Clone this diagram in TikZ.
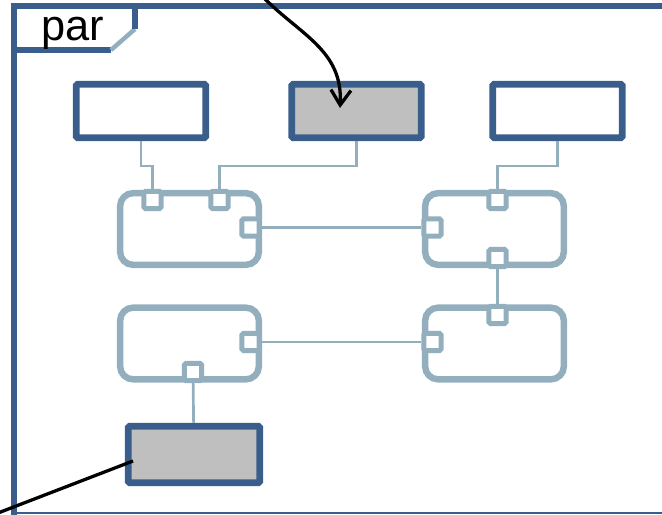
\documentclass[tikz,border=0pt]{standalone}
\usepackage{fontspec}
\setmainfont{Liberation Sans}
\usepackage{tikz}
\usetikzlibrary{arrows.meta}
\definecolor{Frame}{HTML}{3A5E8C}
\definecolor{Part}{HTML}{93AFBE}
\definecolor{Shade}{HTML}{BFBFBF}

\begin{document}
\begin{tikzpicture}[x=0.03cm,y=-0.03cm,
  frame/.style={draw=Frame,line width=5.6pt},
  obj/.style={draw=Frame,line width=5.8pt,fill=white,minimum width=3.88cm,minimum height=1.6cm,inner sep=0pt,rounded corners=1pt},
  objgray/.style={obj,fill=Shade},
  part/.style={draw=Part,line width=5.5pt,fill=white,rounded corners=11pt,minimum width=4.16cm,minimum height=2.15cm,inner sep=0pt},
  port/.style={draw=Part,line width=4.2pt,fill=white,rounded corners=1.5pt,minimum size=0.52cm,inner sep=0pt},
  wire/.style={draw=Part,line width=2.3pt},
  note/.style={draw=black,line width=2.8pt}
]
\useasboundingbox (0,0) rectangle (662,515);
% diagram frame with its name tag
\draw[frame] (662,6) -- (14,6) -- (14,515);
\draw[draw=Frame,line width=1.8pt] (14,513) -- (662,513);
\draw[frame] (14,50) -- (111,50);
\draw[draw=Part,line width=3.8pt] (111,50) -- (135,29);
\draw[frame] (135,29) -- (135,6);
\node[anchor=base west,inner sep=0pt,font=\fontsize{37}{37}\selectfont] (tag) at (41,41) {par};
% objects
\node[obj] (r1) at (141,111) {};
\node[objgray] (r2) at (356.5,111) {};
\node[obj] (r3) at (557.5,111) {};
\node[objgray,minimum width=3.94cm,minimum height=1.69cm] (r4) at (194,454.5) {};
% parts
\node[part] (b1) at (189.5,229) {};
\node[part] (b2) at (494.5,229) {};
\node[part] (b3) at (189.5,343.5) {};
\node[part] (b4) at (494.5,343.5) {};
% ports
\node[port] (p1a) at (152.5,200) {};
\node[port] (p1b) at (219.5,200) {};
\node[port] (p1c) at (250.5,227.5) {};
\node[port] (p2a) at (497.5,200) {};
\node[port] (p2b) at (432.5,227.5) {};
\node[port] (p2c) at (497.5,258) {};
\node[port] (p3a) at (250.5,342) {};
\node[port] (p3b) at (193,372) {};
\node[port] (p4a) at (432.5,342) {};
\node[port] (p4b) at (497.5,315) {};
% connectors
\draw[wire] (r1.south) |- (p1a |- 0,166) -- (p1a);
\draw[wire] (r2.south) |- (p1b |- 0,166) -- (p1b);
\draw[wire] (r3.south) |- (p2a |- 0,166) -- (p2a);
\draw[wire] (p1c) -- (p2b);
\draw[wire] (p2c) -- (p4b);
\draw[wire] (p3a) -- (p4a);
\draw[wire] (p3b) -- (r4);
% notes pointing in
\coordinate (n1) at (262,-4);
\coordinate (n1end) at (340,108);
\draw[note,-{Straight Barb[length=4.5mm,width=6mm]}] (n1) .. controls (300,35) and (343,50) .. (n1end);
\coordinate (n2) at (-2,513);
\coordinate (n2end) at (133,461);
\draw[note] (n2) -- (n2end);
\end{tikzpicture}
\end{document}
